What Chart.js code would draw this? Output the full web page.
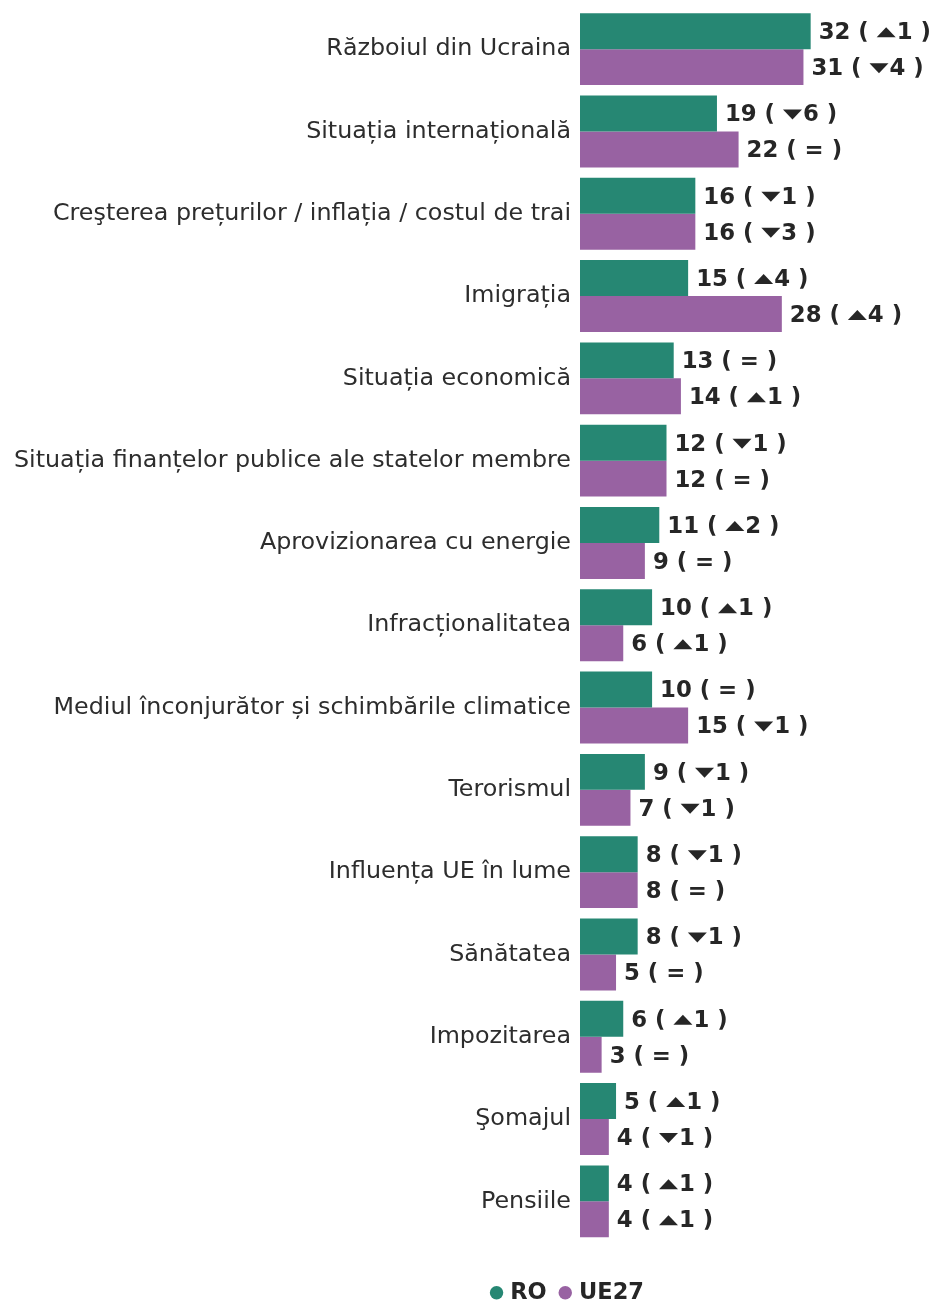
<!DOCTYPE html>
<html><head><meta charset="utf-8">
<script src="https://cdn.jsdelivr.net/npm/chart.js@4.4.1/dist/chart.umd.min.js"></script>
<style>html,body{margin:0;padding:0;background:#fff;} #wrap{width:937px;height:1303px;position:relative;}</style>
</head><body><div id="wrap"><canvas id="c" width="937" height="1303"></canvas></div>
<script>
const categories = [
  'Războiul din Ucraina',
  'Situația internațională',
  'Creşterea prețurilor / inflația / costul de trai',
  'Imigrația',
  'Situația economică',
  'Situația finanțelor publice ale statelor membre',
  'Aprovizionarea cu energie',
  'Infracționalitatea',
  'Mediul înconjurător și schimbările climatice',
  'Terorismul',
  'Influența UE în lume',
  'Sănătatea',
  'Impozitarea',
  'Şomajul',
  'Pensiile'
];
const seriesNames = ['RO', 'UE27'];
const roValues   = [32, 19, 16, 15, 13, 12, 11, 10, 10, 9, 8, 8, 6, 5, 4];
const ue27Values = [31, 22, 16, 28, 14, 12, 9, 6, 15, 7, 8, 5, 3, 4, 4];
// change vs previous wave: positive = up, negative = down, 0 = "="
const roChange   = [1, -6, -1, 4, 0, -1, 2, 1, 0, -1, -1, -1, 1, 1, 1];
const ue27Change = [-4, 0, -3, 4, 1, 0, 0, 1, -1, -1, 0, 0, 0, -1, 1];

const changes = [roChange, ue27Change];
const colors = ['#268773', '#9862a2'];

const valueLabels = {
  id: 'valueLabels',
  afterDatasetsDraw(chart) {
    const ctx = chart.ctx;
    ctx.save();
    ctx.font = 'bold 22.8px "DejaVu Sans"';
    ctx.fillStyle = '#262626';
    ctx.textBaseline = 'middle';
    ctx.textAlign = 'left';
    chart.data.datasets.forEach((ds, di) => {
      const meta = chart.getDatasetMeta(di);
      meta.data.forEach((bar, i) => {
        const v = ds.data[i];
        const ch = changes[di][i];
        let x = bar.x + 8;
        const y = bar.y + 2;
        const draw = s => { ctx.fillText(s, x, y); x += ctx.measureText(s).width; };
        draw(v + ' ( ');
        if (ch === 0) {
          draw('= )');
        } else {
          const tw = 19, th = 10;
          ctx.beginPath();
          if (ch > 0) {
            ctx.moveTo(x, y + th / 2 - 1);
            ctx.lineTo(x + tw, y + th / 2 - 1);
            ctx.lineTo(x + tw / 2, y - th / 2 - 1);
          } else {
            ctx.moveTo(x, y - th / 2 - 1);
            ctx.lineTo(x + tw, y - th / 2 - 1);
            ctx.lineTo(x + tw / 2, y + th / 2 - 1);
          }
          ctx.closePath();
          ctx.fill();
          x += tw + 1;
          draw(Math.abs(ch) + ' )');
        }
      });
    });
    ctx.restore();
  }
};

const legendShift = {
  id: 'legendShift',
  afterLayout(chart) {
    const lg = chart.legend;
    if (!lg) return;
    const dx = 106, dy = 23;
    lg.left += dx; lg.right += dx;
    lg.top += dy; lg.bottom += dy;
  }
};

new Chart(document.getElementById('c'), {
  type: 'bar',
  data: {
    labels: categories,
    datasets: [
      { label: seriesNames[0], data: roValues, backgroundColor: colors[0], borderWidth: 0 },
      { label: seriesNames[1], data: ue27Values, backgroundColor: colors[1], borderWidth: 0 }
    ]
  },
  options: {
    indexAxis: 'y',
    responsive: false,
    animation: false,
    devicePixelRatio: 1,
    datasets: { bar: { categoryPercentage: 0.874, barPercentage: 1.0 } },
    layout: { padding: { top: 8, right: 11, bottom: 12, left: 0 } },
    scales: {
      x: { display: false, min: 0, max: 48 },
      y: {
        grid: { display: false, drawTicks: false },
        border: { display: false },
        ticks: { padding: 9, color: '#2d2d2d', font: { family: '"DejaVu Sans"', size: 23.8 } },
        afterFit(s) { s.width = 580; s.paddingTop = 0; s.paddingBottom = 0; }
      }
    },
    plugins: {
      tooltip: { enabled: false },
      legend: {
        position: 'bottom',
        labels: {
          usePointStyle: true, pointStyle: 'circle', boxWidth: 5, boxHeight: 9.5,
          padding: 16, color: '#262626',
          font: { family: '"DejaVu Sans"', size: 22.5, weight: 'bold' }
        }
      }
    }
  },
  plugins: [valueLabels, legendShift]
});
</script></body></html>
